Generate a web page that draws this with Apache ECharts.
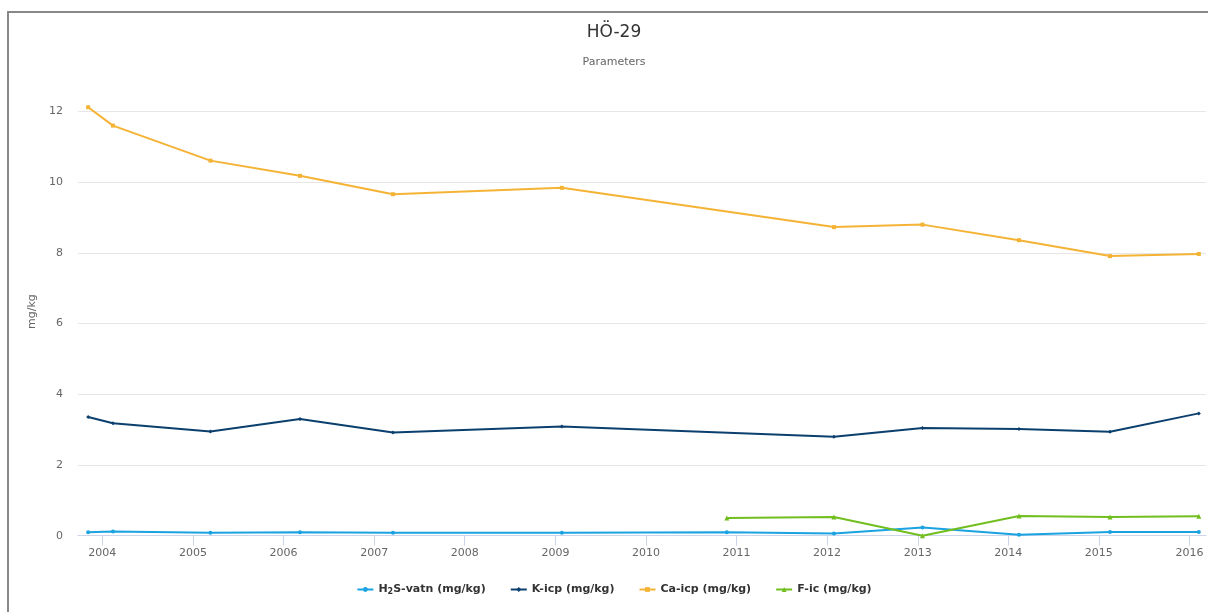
<!DOCTYPE html>
<html>
<head>
<meta charset="utf-8">
<script src="https://cdn.jsdelivr.net/npm/echarts@6/dist/echarts.min.js"></script>
<style>
html,body{margin:0;padding:0;width:1208px;height:612px;overflow:hidden;background:#fff;}
#frame{position:absolute;left:7px;top:11px;width:1300px;height:700px;border-left:2px solid #888;border-top:2px solid #888;box-sizing:border-box;}
#chart{position:absolute;left:0;top:0;width:1228px;height:612px;}
</style>
</head>
<body>
<div id="frame"></div>
<div id="chart"></div>
<script>
var dates = ['2003-11-05','2004-02-13','2005-03-12','2006-03-08','2007-03-18','2009-01-27','2010-11-23','2012-01-29','2013-01-20','2014-02-13','2015-02-15','2016-02-08'];
var h2sValues = [0.10, 0.12, 0.085, 0.10, 0.085, 0.085, 0.10, 0.06, 0.23, 0.03, 0.105, 0.105];
var kValues = [3.36, 3.18, 2.95, 3.30, 2.92, 3.09, null, 2.80, 3.05, 3.02, 2.94, 3.46];
var caValues = [12.12, 11.60, 10.61, 10.18, 9.66, 9.84, null, 8.73, 8.80, 8.36, 7.91, 7.97];
var fValues = [null, null, null, null, null, null, 0.50, 0.53, 0.0, 0.56, 0.53, 0.55];
var seriesNames = ['H2S-vatn (mg/kg)', 'K-icp (mg/kg)', 'Ca-icp (mg/kg)', 'F-ic (mg/kg)'];
var yearTicks = ['2004','2005','2006','2007','2008','2009','2010','2011','2012','2013','2014','2015','2016'];
var xMin = '2003-09-25';
var xMax = '2016-03-08';

function ts(d) { return Date.UTC(+d.slice(0, 4), +d.slice(5, 7) - 1, +d.slice(8, 10)); }
function pairs(vals) {
  var out = [];
  for (var i = 0; i < dates.length; i++) {
    if (vals[i] !== null) out.push([ts(dates[i]), vals[i]]);
  }
  return out;
}
var tickTimes = yearTicks.map(function (y) { return ts(y + '-01-01'); });
var colors = ['#1aa3e0', '#0b3f6e', '#f5b335', '#71be1f'];
var symbols = ['circle', 'diamond', 'rect', 'triangle'];
var allVals = [h2sValues, kValues, caValues, fValues];

var chart = echarts.init(document.getElementById('chart'));
var font = '"DejaVu Sans", Verdana, sans-serif';
chart.setOption({
  animation: false,
  color: colors,
  title: {
    text: 'HÖ-29',
    subtext: 'Parameters',
    left: 'center',
    top: 19,
    itemGap: 16,
    textStyle: { fontFamily: font, fontSize: 17, fontWeight: 'normal', color: '#333' },
    subtextStyle: { fontFamily: font, fontSize: 11, color: '#666' }
  },
  legend: {
    bottom: 11,
    left: 'center',
    itemWidth: 16,
    itemHeight: 6,
    itemGap: 24,
    data: seriesNames,
    formatter: function (name) {
      return name === 'H2S-vatn (mg/kg)' ? 'H{sub|2}S-vatn (mg/kg)' : name;
    },
    textStyle: {
      fontFamily: font, fontSize: 11, fontWeight: 'bold', color: '#333',
      rich: { sub: { fontFamily: font, fontSize: 8, fontWeight: 'bold', color: '#333', padding: [5, 0, 0, 0] } }
    }
  },
  grid: { left: 78, right: 22, top: 111.5, bottom: 76.3, containLabel: false },
  xAxis: {
    type: 'value',
    min: ts(xMin),
    max: ts(xMax),
    axisLine: { show: true, onZero: false, lineStyle: { color: '#ccd6eb', width: 1 } },
    axisTick: { show: true, length: 10, lineStyle: { color: '#ccd6eb' }, customValues: tickTimes },
    axisLabel: {
      customValues: tickTimes,
      formatter: function (v) { return String(new Date(v).getUTCFullYear()); },
      color: '#666', fontFamily: font, fontSize: 11, margin: 12
    },
    splitLine: { show: false }
  },
  yAxis: {
    type: 'value',
    min: 0,
    max: 12,
    interval: 2,
    name: 'mg/kg',
    nameLocation: 'middle',
    nameGap: 40,
    nameTextStyle: { color: '#666', fontFamily: font, fontSize: 11, padding: [0, 0, 0, 24] },
    axisLine: { show: false },
    axisTick: { show: false },
    axisLabel: { color: '#666', fontFamily: font, fontSize: 11, margin: 15 },
    splitLine: { lineStyle: { color: '#e6e6e6', width: 1 } }
  },
  series: seriesNames.map(function (n, i) {
    return {
      name: n,
      type: 'line',
      data: pairs(allVals[i]),
      clip: false,
      symbol: symbols[i],
      symbolSize: i === 3 ? 5 : 4,
      showSymbol: true,
      lineStyle: { width: 2, color: colors[i] },
      itemStyle: { color: colors[i] }
    };
  })
});
</script>
</body>
</html>
